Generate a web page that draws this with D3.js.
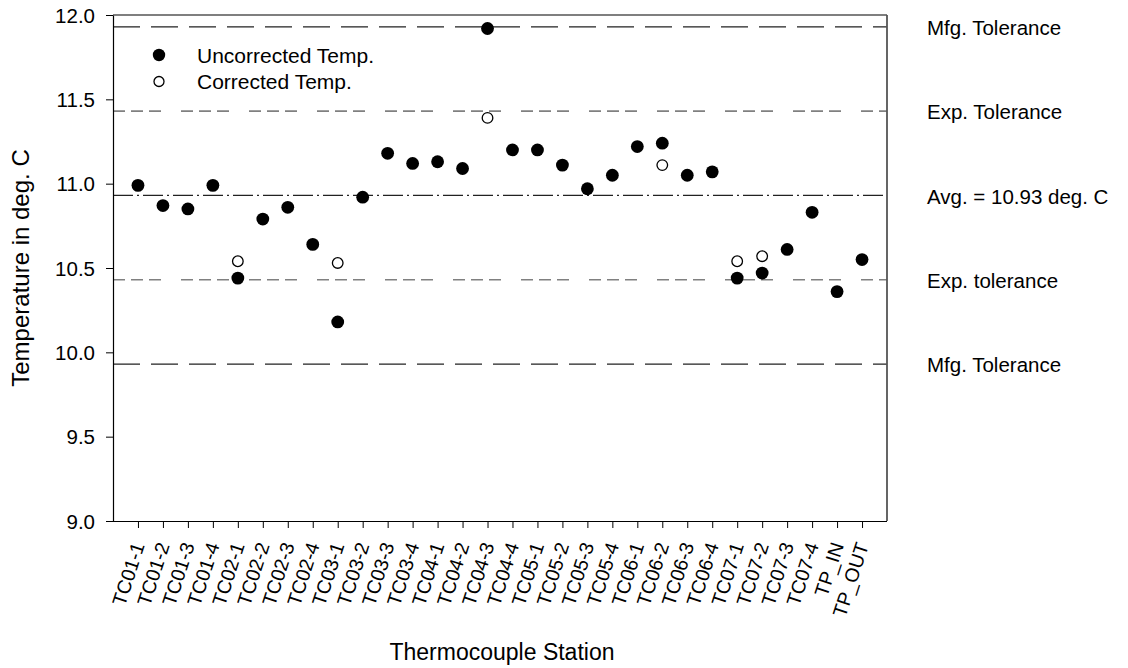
<!DOCTYPE html>
<html><head><meta charset="utf-8">
<script src="https://cdn.jsdelivr.net/npm/d3@7"></script>
<style>
body{margin:0;background:#fff;}
svg text{font-family:Arial,"Liberation Sans",sans-serif;fill:#000;}
</style></head>
<body>
<svg id="c" width="1128" height="668"></svg>
<script>
const stations = ["TC01-1","TC01-2","TC01-3","TC01-4","TC02-1","TC02-2","TC02-3","TC02-4","TC03-1","TC03-2","TC03-3","TC03-4","TC04-1","TC04-2","TC04-3","TC04-4","TC05-1","TC05-2","TC05-3","TC05-4","TC06-1","TC06-2","TC06-3","TC06-4","TC07-1","TC07-2","TC07-3","TC07-4","TP_IN","TP_OUT"];
const uncorrected = [10.99,10.87,10.85,10.99,10.44,10.79,10.86,10.64,10.18,10.92,11.18,11.12,11.13,11.09,11.92,11.20,11.20,11.11,10.97,11.05,11.22,11.24,11.05,11.07,10.44,10.47,10.61,10.83,10.36,10.55];
const corrected = [null,null,null,null,10.54,null,null,null,10.53,null,null,null,null,null,11.39,null,null,null,null,null,null,11.11,null,null,10.54,10.57,null,null,null,null];
const refValues = [11.93,11.43,10.93,10.43,9.93];
const refLabels = ["Mfg. Tolerance","Exp. Tolerance","Avg. = 10.93 deg. C","Exp. tolerance","Mfg. Tolerance"];
const yTicks = [9.0,9.5,10.0,10.5,11.0,11.5,12.0];
const legendLabels = ["Uncorrected Temp.","Corrected Temp."];

const svg = d3.select("#c");
const L=113,R=887,T=15,B=521;
const FS = 20.5;
const x = d3.scaleLinear().domain([0,stations.length+1]).range([L,R]);
const y = d3.scaleLinear().domain([9,12]).range([B,T]);

// reference lines
const refStyle = [
  {dash:"27,11",color:"#222",w:1.3},
  {dash:"12,6,12,6,12,20",color:"#808080",w:1.6},
  {dash:"20,4,2,4",color:"#222",w:1.3},
  {dash:"12,6,12,6,12,20",color:"#808080",w:1.6},
  {dash:"27,11",color:"#222",w:1.3}
];
svg.append("g").selectAll("line").data(refValues).join("line")
  .attr("x1",L).attr("x2",R)
  .attr("y1",d=>y(d)).attr("y2",d=>y(d))
  .attr("stroke",(d,i)=>refStyle[i].color)
  .attr("stroke-width",(d,i)=>refStyle[i].w)
  .attr("stroke-dasharray",(d,i)=>refStyle[i].dash);

svg.append("g").selectAll("text").data(refValues).join("text")
  .attr("x",927).attr("y",d=>y(d)+1)
  .attr("dy","0.35em")
  .style("font-size",FS+"px")
  .text((d,i)=>refLabels[i]);

// frame
svg.append("line").attr("x1",L).attr("x2",R).attr("y1",T).attr("y2",T).attr("stroke","#000").attr("stroke-width",1.2);
svg.append("line").attr("x1",R).attr("x2",R).attr("y1",T).attr("y2",B).attr("stroke","#555").attr("stroke-width",1.8);

// axes
const ya = svg.append("g").attr("transform",`translate(${L},0)`)
  .call(d3.axisLeft(y).tickValues(yTicks).tickFormat(d3.format(".1f")).tickSize(7).tickSizeOuter(0));
ya.select(".domain").attr("stroke","#000").attr("stroke-width",1.2);
ya.selectAll(".tick text").style("font-size",FS+"px")
  .attr("x",-18).attr("dy","0.35em");

const xa = svg.append("g").attr("transform",`translate(0,${B})`)
  .call(d3.axisBottom(x).tickValues(d3.range(1,stations.length+1)).tickFormat(d=>stations[d-1]).tickSize(7).tickSizeOuter(0));
xa.select(".domain").attr("stroke","#000").attr("stroke-width",1.2).attr("d",`M${L-7},0.5H${R}`);
xa.selectAll(".tick text").style("font-size","19.5px")
  .attr("text-anchor","end").attr("x",0).attr("y",0).attr("dy","0.35em")
  .attr("transform","translate(0,22) rotate(-72)");

// points
svg.append("g").selectAll("circle").data(uncorrected).join("circle")
  .attr("cx",(d,i)=>x(i+1)).attr("cy",d=>y(d)).attr("r",6.4).attr("fill","#000");
svg.append("g").selectAll("circle").data(corrected.map((v,i)=>({v,i})).filter(d=>d.v!=null)).join("circle")
  .attr("cx",d=>x(d.i+1)).attr("cy",d=>y(d.v)).attr("r",5.3).attr("fill","#fff").attr("stroke","#000").attr("stroke-width",1.3);

// legend
const lg = svg.append("g");
lg.append("circle").attr("cx",159).attr("cy",55).attr("r",6.2).attr("fill","#000");
lg.append("circle").attr("cx",159).attr("cy",81.5).attr("r",5).attr("fill","#fff").attr("stroke","#000").attr("stroke-width",1.3);
lg.selectAll("text").data(legendLabels).join("text")
  .attr("x",197).attr("y",(d,i)=>56+i*26).attr("dy","0.35em")
  .style("font-size","21px").text(d=>d);

// titles
svg.append("text").attr("transform",`translate(29,${(T+B)/2}) rotate(-90)`)
  .attr("text-anchor","middle").style("font-size","24px").text("Temperature in deg. C");
svg.append("text").attr("x",502).attr("y",660).attr("text-anchor","middle")
  .style("font-size","23px").text("Thermocouple Station");
</script>
</body></html>
